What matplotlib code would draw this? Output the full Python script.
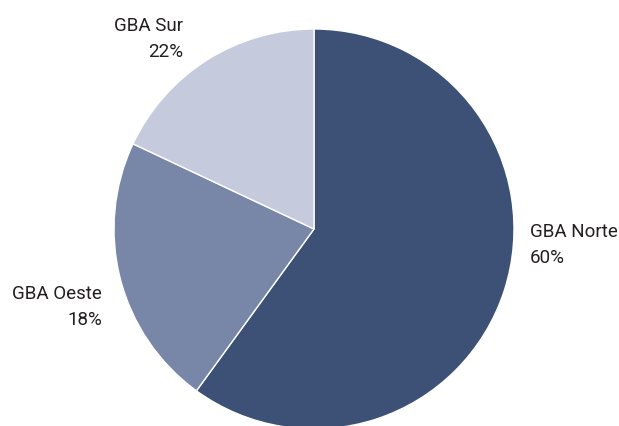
import matplotlib
matplotlib.use('Agg')
from matplotlib import pyplot as plt

# data
regions = ['GBA Norte', 'GBA Oeste', 'GBA Sur']
shares = [60, 22, 18]                 # slice sizes as drawn
pct_labels = ['60%', '18%', '22%']    # percentages as printed in the chart
colors = ['#3D5176', '#7886A8', '#C5CBDD']

W, H = 619, 426
fig = plt.figure(figsize=(W / 100, H / 100), dpi=100)

# pie: centre (314, 229) px from top-left, radius 200 px
cx, cy, r = 314, 229, 200
ax = fig.add_axes([(cx - r) / W, (H - cy - r) / H, 2 * r / W, 2 * r / H])
ax.pie(shares, colors=colors, startangle=90, counterclock=False, radius=1.0,
       wedgeprops=dict(edgecolor='white', linewidth=1.0))
ax.set_xlim(-1, 1)
ax.set_ylim(-1, 1)
ax.set_aspect('equal')
ax.axis('off')

txt = '#231F20'
font = dict(family='Roboto', fontsize=13.5, color=txt)

# label anchors: (x px, baseline px of first line, alignment)
anchors = [(530, 237, 'left'), (102, 299, 'right'), (183, 31, 'right')]
for name, pct, (x, y, ha) in zip(regions, pct_labels, anchors):
    fig.text(x / W, 1 - y / H, name, ha=ha, va='baseline', **font)
    fig.text(x / W, 1 - (y + 26) / H, pct, ha=ha, va='baseline', **font)

plt.savefig('out.png', dpi=100)
